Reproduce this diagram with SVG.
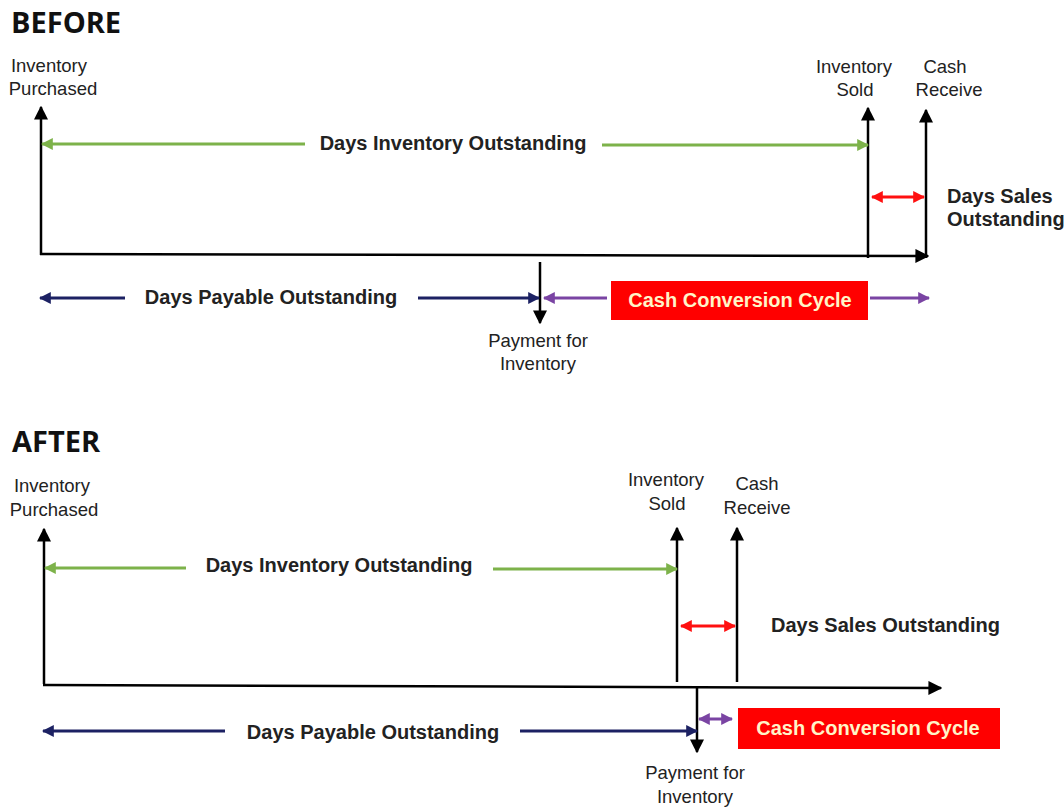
<svg xmlns="http://www.w3.org/2000/svg" width="1064" height="807" viewBox="0 0 1064 807">
<style>
.title{font-family:"Open Sans","Liberation Sans",sans-serif;font-weight:700;font-size:29px;fill:#111}
.lbl{font-family:"Liberation Sans",Arial,sans-serif;font-size:18.5px;fill:#222;text-anchor:middle}
.b{font-family:"Liberation Sans",Arial,sans-serif;font-size:20px;font-weight:700;fill:#222}
.ccc{font-family:"Liberation Sans",Arial,sans-serif;font-size:20px;font-weight:700;fill:#fff4c8;text-anchor:middle}
.ax{stroke:#000;stroke-width:2.5;fill:none}
.g{stroke:#7db24a;stroke-width:3;fill:none}
.n{stroke:#1c2163;stroke-width:3;fill:none}
.p{stroke:#7a44a3;stroke-width:3;fill:none}
.r{stroke:#ff1010;stroke-width:3;fill:none}
.box{fill:#ff0000}
</style>
<defs>
<marker id="akb" viewBox="0 0 10 10" refX="9" refY="5" markerWidth="14" markerHeight="14" markerUnits="userSpaceOnUse" orient="auto-start-reverse"><path d="M0,0 L10,5 L0,10 z" fill="#000"/></marker>
<marker id="ag" viewBox="0 0 10 10" refX="9" refY="5" markerWidth="12" markerHeight="12" markerUnits="userSpaceOnUse" orient="auto-start-reverse"><path d="M0,0 L10,5 L0,10 z" fill="#7db24a"/></marker>
<marker id="an" viewBox="0 0 10 10" refX="9" refY="5" markerWidth="12" markerHeight="12" markerUnits="userSpaceOnUse" orient="auto-start-reverse"><path d="M0,0 L10,5 L0,10 z" fill="#1c2163"/></marker>
<marker id="ap" viewBox="0 0 10 10" refX="9" refY="5" markerWidth="12" markerHeight="12" markerUnits="userSpaceOnUse" orient="auto-start-reverse"><path d="M0,0 L10,5 L0,10 z" fill="#7a44a3"/></marker>
<marker id="ar" viewBox="0 0 10 10" refX="9" refY="5" markerWidth="12" markerHeight="12" markerUnits="userSpaceOnUse" orient="auto-start-reverse"><path d="M0,0 L10,5 L0,10 z" fill="#ff1010"/></marker>
</defs>
<rect width="1064" height="807" fill="#fff"/>

<g id="before">
<text class="title" x="11" y="33">BEFORE</text>
<g id="b-purchased"><text class="lbl" x="49" y="72">Inventory</text><text class="lbl" x="53" y="95">Purchased</text></g>
<g id="b-sold"><text class="lbl" x="854" y="73">Inventory</text><text class="lbl" x="855" y="96">Sold</text></g>
<g id="b-cash"><text class="lbl" x="945" y="73">Cash</text><text class="lbl" x="949" y="96">Receive</text></g>
<g id="b-dio"><text class="b" x="453" y="150" text-anchor="middle">Days Inventory Outstanding</text></g>
<g id="b-dso"><text class="b" x="947" y="203">Days Sales</text><text class="b" x="947" y="226">Outstanding</text></g>
<g id="b-dpo"><text class="b" x="271" y="304" text-anchor="middle">Days Payable Outstanding</text></g>
<g id="b-payment"><text class="lbl" x="538" y="347">Payment for</text><text class="lbl" x="538" y="370">Inventory</text></g>
<g id="b-ccc"><rect class="box" x="611" y="281" width="257" height="39"/><text class="ccc" x="740" y="307">Cash Conversion Cycle</text></g>
</g>

<g id="after">
<text class="title" x="12" y="452">AFTER</text>
<g id="a-purchased"><text class="lbl" x="52" y="492">Inventory</text><text class="lbl" x="54" y="516">Purchased</text></g>
<g id="a-sold"><text class="lbl" x="666" y="486">Inventory</text><text class="lbl" x="667" y="510">Sold</text></g>
<g id="a-cash"><text class="lbl" x="757" y="490">Cash</text><text class="lbl" x="757" y="514">Receive</text></g>
<g id="a-dio"><text class="b" x="339" y="572" text-anchor="middle">Days Inventory Outstanding</text></g>
<g id="a-dso"><text class="b" x="771" y="632">Days Sales Outstanding</text></g>
<g id="a-dpo"><text class="b" x="373" y="739" text-anchor="middle">Days Payable Outstanding</text></g>
<g id="a-payment"><text class="lbl" x="695" y="779">Payment for</text><text class="lbl" x="695" y="803">Inventory</text></g>
<g id="a-ccc"><rect class="box" x="738" y="708" width="262" height="41"/><text class="ccc" x="868" y="735">Cash Conversion Cycle</text></g>
</g>

<g id="connectors">
<path class="ax" d="M41,255 L41,107" marker-end="url(#akb)"/>
<path class="ax" d="M868,258 L868,108" marker-end="url(#akb)"/>
<path class="ax" d="M926,258 L926,110" marker-end="url(#akb)"/>
<path class="ax" d="M40,254 L928,256" marker-end="url(#akb)"/>
<path class="ax" d="M540,262 L540,323" marker-end="url(#akb)"/>
<path class="g" d="M305,144 L42,144" marker-end="url(#ag)"/>
<path class="g" d="M602,145 L868,145" marker-end="url(#ag)"/>
<path class="r" d="M872,197 L924,197" marker-start="url(#ar)" marker-end="url(#ar)"/>
<path class="n" d="M125,298 L40,298" marker-end="url(#an)"/>
<path class="n" d="M418,298 L539,298" marker-end="url(#an)"/>
<path class="p" d="M607,298 L544,298" marker-end="url(#ap)"/>
<path class="p" d="M870,298 L929,298" marker-end="url(#ap)"/>
<path class="ax" d="M44,684 L44,529" marker-end="url(#akb)"/>
<path class="ax" d="M677,682 L677,528" marker-end="url(#akb)"/>
<path class="ax" d="M737,682 L737,528" marker-end="url(#akb)"/>
<path class="ax" d="M43,685 L941,688" marker-end="url(#akb)"/>
<path class="ax" d="M697,686 L697,752" marker-end="url(#akb)"/>
<path class="g" d="M186,568 L45,568" marker-end="url(#ag)"/>
<path class="g" d="M493,569 L677,569" marker-end="url(#ag)"/>
<path class="r" d="M681,626 L735,626" marker-start="url(#ar)" marker-end="url(#ar)"/>
<path class="n" d="M225,731 L43,731" marker-end="url(#an)"/>
<path class="n" d="M520,731 L697,731" marker-end="url(#an)"/>
<path class="p" d="M699,719 L732,719" marker-start="url(#ap)" marker-end="url(#ap)"/>
</g>
</svg>
